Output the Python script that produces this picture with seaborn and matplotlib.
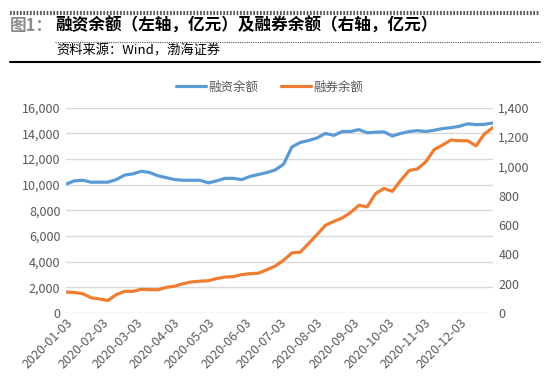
import matplotlib
matplotlib.use('Agg')
import matplotlib.pyplot as plt
import matplotlib.dates as mdates
from matplotlib.lines import Line2D
from matplotlib.ticker import FuncFormatter
import seaborn as sns
import pandas as pd

sns.set_style('white')
plt.rcParams['font.family'] = ['Noto Sans CJK SC', 'DejaVu Sans']
plt.rcParams['axes.unicode_minus'] = False

# 周度数据，52个点
dates = pd.date_range('2020-01-03', '2020-12-31', periods=52)
margin = [10050, 10300, 10350, 10200, 10200, 10200, 10400, 10750, 10850, 11050,
          10950, 10700, 10550, 10400, 10350, 10350, 10350, 10150, 10300, 10500,
          10500, 10400, 10650, 10800, 10950, 11150, 11600, 12950, 13300, 13450,
          13650, 14000, 13850, 14150, 14150, 14300, 14050, 14100, 14120, 13800,
          14000, 14150, 14220, 14150, 14250, 14380, 14450, 14560, 14750, 14690,
          14710, 14820]
short = [143, 140, 132, 104, 96, 85, 125, 148, 148, 162,
         159, 159, 175, 183, 200, 212, 217, 220, 235, 245,
         248, 262, 268, 272, 295, 320, 360, 410, 415, 475,
         535, 598, 625, 648, 685, 735, 725, 815, 850, 830,
         905, 972, 983, 1032, 1115, 1146, 1180, 1175, 1175, 1140,
         1222, 1264]
df = pd.DataFrame({'date': dates, '融资余额': margin, '融券余额': short})

blue = '#5B9BD5'
orange = '#ED7D31'
grey = '#595959'

fig = plt.figure(figsize=(5.5, 3.85), dpi=100)
ax = fig.add_axes([0.12, 0.187, 0.776, 0.533])
ax2 = ax.twinx()

sns.lineplot(data=df, x='date', y='融资余额', ax=ax, color=blue, linewidth=2.3)
sns.lineplot(data=df, x='date', y='融券余额', ax=ax2, color=orange, linewidth=2.3)

ax.set_ylim(0, 16000)
ax.set_yticks(range(0, 16001, 2000))
ax2.set_ylim(0, 1400)
ax2.set_yticks(range(0, 1401, 200))
fmt = FuncFormatter(lambda v, p: '{:,.0f}'.format(v))
ax.yaxis.set_major_formatter(fmt)
ax2.yaxis.set_major_formatter(fmt)

ax.set_xlim(pd.Timestamp('2020-01-03'), pd.Timestamp('2020-12-31'))
ticks = pd.date_range('2020-01-01', periods=12, freq='MS') + pd.Timedelta(days=2)
ax.set_xticks(ticks)
ax.xaxis.set_major_formatter(mdates.DateFormatter('%Y-%m-%d'))
for lab in ax.get_xticklabels():
    lab.set_rotation(45)
    lab.set_ha('right')
    lab.set_rotation_mode('anchor')

ax.grid(axis='y', color='#D9D9D9', linewidth=1)
ax.set_axisbelow(True)
for a in (ax, ax2):
    a.set_xlabel('')
    a.set_ylabel('')
    for s in a.spines.values():
        s.set_visible(False)
    a.tick_params(length=0, labelsize=9, labelcolor=grey, pad=4)
ax.tick_params(axis='x', pad=2)

handles = [Line2D([], [], color=blue, lw=2.3), Line2D([], [], color=orange, lw=2.3)]
fig.legend(handles, ['融资余额', '融券余额'], loc='center', bbox_to_anchor=(0.49, 0.774),
           ncol=2, frameon=False, fontsize=9, labelcolor=grey, handlelength=2.4,
           handletextpad=0.2, columnspacing=1.8)

# 标题区域
fig.add_artist(Line2D([0.018, 0.982], [0.966, 0.966], transform=fig.transFigure,
                      color='#555555', lw=3, ls=(0, (0.4, 0.4))))
fig.text(0.018, 0.933, '图1：', fontsize=12, fontweight='bold', color='#8C8C8C', va='center')
fig.text(0.1, 0.933, '融资余额（左轴，亿元）及融券余额（右轴，亿元）', fontsize=12,
         fontweight='bold', color='black', va='center')
fig.add_artist(Line2D([0.1, 0.982], [0.891, 0.891], transform=fig.transFigure,
                      color='#555555', lw=0.8, ls=(0, (1, 1))))
fig.text(0.103, 0.868, '资料来源：Wind，渤海证券', fontsize=9.5, color='black', va='center')
fig.add_artist(Line2D([0.018, 0.982], [0.839, 0.839], transform=fig.transFigure,
                      color='black', lw=1.5))

plt.savefig('out.png', dpi=100)
